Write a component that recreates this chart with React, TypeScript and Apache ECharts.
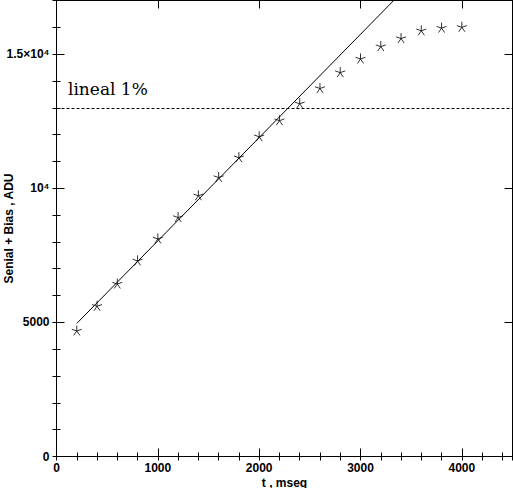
import { useEffect, useRef } from 'react'
import * as echarts from 'echarts'

// exposure times (ms) and measured signal + bias (ADU)
const times = [200, 400, 600, 800, 1000, 1200, 1400, 1600, 1800, 2000, 2200, 2400, 2600, 2800, 3000, 3200, 3400, 3600, 3800, 4000]
const signal = [4700, 5620, 6450, 7310, 8130, 8930, 9740, 10420, 11160, 11940, 12540, 13170, 13740, 14330, 14840, 15300, 15600, 15890, 15990, 16020]

// linear fit endpoints (t, ADU)
const fitT = [200, 3400]
const fitV = [4960, 17280]

const linearLevel = 13000
const linearLabel = 'lineal 1%'

const yLabels: Record<number, string> = { 0: '0', 5000: '5000', 10000: '10⁴', 15000: '1.5×10⁴' }
const xLabels = [0, 1000, 2000, 3000, 4000]

const star = 'path://M0,-5L0,0M4.76,-1.55L0,0M-4.76,-1.55L0,0M2.94,4.05L0,0M-2.94,4.05L0,0'

const tickFont = { color: '#000', fontFamily: 'Liberation Sans', fontWeight: 'bold' as const, fontSize: 12 }

function tickAxis(position: string, interval: number, len: number, extra: any = {}) {
  return {
    type: 'value',
    position,
    interval,
    axisLine: { show: false },
    axisTick: { show: true, inside: true, length: len, lineStyle: { color: '#000', width: 1 } },
    axisLabel: { show: false },
    splitLine: { show: false },
    ...extra,
  }
}

export default function App() {
  const chartRef = useRef<HTMLDivElement>(null)

  useEffect(() => {
    document.body.style.margin = '0'
    if (!chartRef.current) return
    const chart = echarts.init(chartRef.current, null, { renderer: 'svg' })

    const xRange = { min: 0, max: 4500 }
    const yRange = { min: 0, max: 17000 }
    const frameLine = { show: true, onZero: false, lineStyle: { color: '#000', width: 1 } }

    const option: any = {
      animation: false,
      backgroundColor: '#fff',
      grid: { left: 56.5, right: 0.5, top: 0.5, bottom: 31.5, containLabel: false, outerBoundsMode: 'none' },
      xAxis: [
        tickAxis('bottom', 1000, 8, {
          ...xRange,
          axisLine: frameLine,
          axisLabel: {
            ...tickFont,
            margin: 5,
            showMaxLabel: false,
            formatter: (v: number) => (xLabels.includes(v) ? String(v) : ''),
          },
          name: 't , mseg',
          nameLocation: 'middle',
          nameGap: 20,
          nameMoveOverlap: false,
          nameTextStyle: { ...tickFont },
        }),
        tickAxis('bottom', 200, 4, xRange),
        tickAxis('top', 1000, 8, { ...xRange, axisLine: frameLine }),
        tickAxis('top', 200, 4, xRange),
      ],
      yAxis: [
        tickAxis('left', 5000, 8, {
          ...yRange,
          axisLine: frameLine,
          axisLabel: {
            ...tickFont,
            margin: 7,
            showMaxLabel: false,
            formatter: (v: number) => yLabels[v] ?? '',
          },
          name: 'Senial + Bias , ADU',
          nameLocation: 'middle',
          nameGap: 42,
          nameMoveOverlap: false,
          nameTextStyle: { ...tickFont, fontSize: 12 },
        }),
        tickAxis('left', 1000, 4, yRange),
        tickAxis('right', 5000, 8, { ...yRange, axisLine: frameLine }),
        tickAxis('right', 1000, 4, yRange),
      ],
      graphic: [
        {
          type: 'text',
          left: 68,
          top: 80,
          style: { text: linearLabel, fill: '#000', font: '17px "DejaVu Serif"' },
        },
      ],
      series: [
        {
          type: 'line',
          data: fitT.map((t, i) => [t, fitV[i]]),
          showSymbol: false,
          symbol: 'none',
          clip: true,
          lineStyle: { color: '#000', width: 1 },
          markLine: {
            silent: true,
            symbol: 'none',
            label: { show: false },
            lineStyle: { color: '#000', width: 1, type: [3, 2] },
            data: [{ yAxis: linearLevel }],
          },
        },
        {
          type: 'scatter',
          data: times.map((t, i) => [t, signal[i]]),
          symbol: star,
          symbolSize: 10,
          itemStyle: { color: 'none', borderColor: '#000', borderWidth: 1 },
        },
      ],
    }

    chart.setOption(option)
    return () => chart.dispose()
  }, [])

  return <div ref={chartRef} style={{ width: 513, height: 488 }} />
}
